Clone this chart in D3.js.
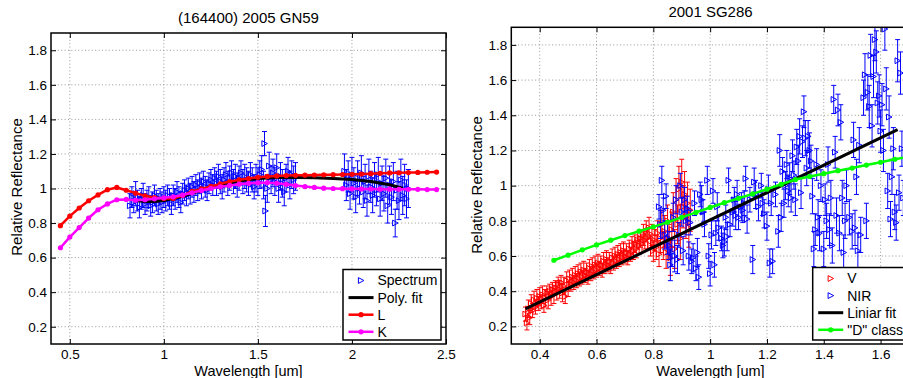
<!DOCTYPE html>
<html><head><meta charset="utf-8">
<script src="https://cdn.jsdelivr.net/npm/d3@7"></script>
<style>
body{margin:0;background:#fff}
svg{display:block}
text{font-family:"Liberation Sans",Arial,Helvetica,sans-serif;fill:#000}
</style>
</head><body>
<svg id="chart" width="903" height="378"></svg>
<script>
// ---------------- DATA ----------------
// Left panel: (164400) 2005 GN59
const leftTitle = "(164400) 2005 GN59";
const leftXTicks = [0.5, 1, 1.5, 2, 2.5];
const leftXTickLabels = ["0.5", "1", "1.5", "2", "2.5"];
const yTicks = [0.2, 0.4, 0.6, 0.8, 1.0, 1.2, 1.4, 1.6, 1.8];
const yTickLabels = ["0.2", "0.4", "0.6", "0.8", "1", "1.2", "1.4", "1.6", "1.8"];

// spectrum: [wavelength, reflectance, error]
const spectrumL = [
[0.82,0.90,0.07],[0.83,0.95,0.06],[0.84,0.92,0.06],[0.85,0.97,0.07],[0.86,0.93,0.06],[0.87,0.89,0.06],
[0.88,0.94,0.06],[0.89,0.96,0.07],[0.90,0.91,0.06],[0.91,0.93,0.06],[0.92,0.95,0.06],[0.93,0.90,0.06],
[0.94,0.92,0.06],[0.95,0.96,0.06],[0.96,0.93,0.06],[0.97,0.91,0.06],[0.98,0.94,0.06],[0.99,0.92,0.06],
[1.00,0.95,0.06],[1.01,0.93,0.06],[1.02,0.96,0.06],[1.03,0.94,0.06],[1.04,0.91,0.06],[1.05,0.96,0.06],
[1.06,0.94,0.06],[1.07,0.98,0.06],[1.08,0.95,0.06],[1.09,0.92,0.06],[1.10,0.97,0.06],[1.11,0.99,0.06],
[1.12,0.96,0.06],[1.13,1.00,0.06],[1.14,0.97,0.06],[1.15,1.01,0.06],[1.16,0.98,0.06],[1.17,1.02,0.06],
[1.18,0.99,0.06],[1.19,1.03,0.06],[1.20,1.00,0.06],[1.21,1.04,0.06],[1.22,1.01,0.06],[1.23,0.99,0.06],
[1.24,1.03,0.06],[1.25,1.05,0.06],[1.26,1.02,0.06],[1.27,1.06,0.06],[1.28,1.03,0.07],[1.29,1.07,0.07],
[1.30,1.04,0.07],[1.31,1.01,0.07],[1.32,1.05,0.07],[1.33,1.08,0.07],[1.34,1.03,0.07],[1.35,1.06,0.07],
[1.36,1.09,0.07],[1.37,1.04,0.07],[1.38,1.07,0.07],[1.39,1.02,0.07],[1.40,1.06,0.07],[1.41,1.09,0.07],
[1.42,1.04,0.07],[1.43,1.07,0.07],[1.44,1.05,0.07],[1.45,1.03,0.07],[1.46,1.08,0.07],[1.47,1.05,0.07],
[1.48,1.01,0.07],[1.49,1.06,0.08],[1.50,1.04,0.08],[1.51,1.08,0.08],[1.52,1.11,0.08],[1.53,1.02,0.08],
[1.535,1.26,0.07],[1.54,0.87,0.09],[1.55,1.00,0.08],[1.56,1.13,0.08],[1.57,1.05,0.08],[1.58,1.09,0.08],
[1.59,1.04,0.08],[1.60,1.12,0.08],[1.61,1.00,0.08],[1.62,1.07,0.08],[1.63,1.03,0.08],[1.64,0.98,0.08],
[1.65,1.06,0.08],[1.66,1.10,0.08],[1.67,1.02,0.08],[1.68,1.08,0.08],[1.69,1.05,0.08],[1.70,1.07,0.08],
[1.96,1.10,0.10],[1.97,1.02,0.09],[1.98,1.07,0.09],[1.99,0.97,0.09],[2.00,1.08,0.10],[2.01,1.03,0.09],
[2.02,0.95,0.09],[2.03,1.06,0.10],[2.04,1.00,0.09],[2.05,1.09,0.10],[2.06,0.98,0.09],[2.07,1.04,0.10],
[2.08,0.93,0.09],[2.09,1.07,0.10],[2.10,1.01,0.09],[2.11,0.96,0.10],[2.12,1.05,0.10],[2.13,0.99,0.09],
[2.14,1.08,0.10],[2.15,0.94,0.10],[2.16,1.03,0.10],[2.17,0.97,0.10],[2.18,1.06,0.11],[2.19,0.90,0.10],
[2.20,1.02,0.11],[2.21,0.95,0.10],[2.22,1.04,0.11],[2.23,0.80,0.08],[2.24,0.99,0.11],[2.25,0.93,0.11],
[2.26,1.05,0.12],[2.27,0.96,0.11],[2.28,1.02,0.12],[2.29,0.94,0.11],[2.30,1.00,0.11]
];
// polynomial fit: [wavelength, reflectance]
const polyFitL = [
[0.85,0.930],[0.90,0.925],[0.95,0.925],[1.00,0.930],[1.10,0.955],[1.20,0.990],[1.30,1.020],
[1.40,1.043],[1.50,1.058],[1.60,1.064],[1.70,1.064],[1.80,1.062],[1.90,1.058],[2.00,1.052],
[2.10,1.040],[2.20,1.022],[2.27,1.002]
];
const lamLK = [0.45,0.50,0.55,0.60,0.65,0.70,0.75,0.80,0.85,0.90,0.95,1.00,1.05,1.10,1.15,1.20,1.25,1.30,
1.35,1.40,1.45,1.50,1.55,1.60,1.65,1.70,1.75,1.80,1.85,1.90,1.95,2.00,2.05,2.10,2.15,2.20,2.25,2.30,2.35,2.40,2.45];
const classL = [0.785,0.840,0.887,0.929,0.963,0.993,1.006,0.990,0.973,0.958,0.948,0.942,0.942,0.960,0.983,0.998,
1.012,1.027,1.040,1.050,1.058,1.065,1.070,1.073,1.075,1.076,1.077,1.078,1.079,1.080,1.081,1.082,1.084,1.086,
1.088,1.090,1.091,1.092,1.093,1.094,1.095];
const classK = [0.657,0.719,0.774,0.829,0.877,0.911,0.935,0.937,0.932,0.935,0.940,0.946,0.952,0.962,0.975,0.988,
1.000,1.010,1.018,1.025,1.030,1.033,1.034,1.030,1.024,1.017,1.011,1.006,1.002,1.000,0.999,0.998,0.997,0.997,
0.996,0.996,0.995,0.995,0.995,0.994,0.994];

// Right panel: 2001 SG286
const rightTitle = "2001 SG286";
const rightXTicks = [0.4, 0.6, 0.8, 1.0, 1.2, 1.4, 1.6];
const rightXTickLabels = ["0.4", "0.6", "0.8", "1", "1.2", "1.4", "1.6"];
const visibleR = [
[0.350,0.27,0.04],[0.355,0.22,0.04],[0.360,0.30,0.05],[0.365,0.25,0.04],[0.370,0.33,0.05],[0.375,0.29,0.04],
[0.380,0.35,0.05],[0.385,0.31,0.04],[0.390,0.36,0.05],[0.395,0.33,0.04],[0.400,0.37,0.05],[0.405,0.34,0.04],
[0.410,0.38,0.05],[0.415,0.32,0.04],[0.420,0.36,0.05],[0.425,0.39,0.04],[0.430,0.35,0.05],[0.435,0.40,0.04],
[0.440,0.37,0.05],[0.445,0.41,0.04],[0.450,0.38,0.05],[0.455,0.42,0.04],[0.460,0.40,0.05],[0.465,0.44,0.04],
[0.470,0.41,0.05],[0.475,0.45,0.04],[0.480,0.39,0.05],[0.485,0.43,0.05],[0.490,0.37,0.04],[0.495,0.46,0.05],
[0.500,0.41,0.04],[0.505,0.47,0.05],[0.510,0.44,0.04],[0.515,0.48,0.05],[0.520,0.45,0.04],[0.525,0.49,0.05],
[0.530,0.46,0.04],[0.535,0.50,0.05],[0.540,0.47,0.04],[0.545,0.51,0.05],[0.550,0.48,0.04],[0.555,0.52,0.05],
[0.560,0.49,0.04],[0.565,0.51,0.05],[0.570,0.48,0.04],[0.575,0.53,0.05],[0.580,0.50,0.04],[0.585,0.54,0.05],
[0.590,0.51,0.04],[0.595,0.55,0.05],[0.600,0.52,0.04],[0.605,0.56,0.05],[0.610,0.53,0.04],[0.615,0.55,0.05],
[0.620,0.52,0.04],[0.625,0.57,0.05],[0.630,0.54,0.04],[0.635,0.58,0.05],[0.640,0.55,0.04],[0.645,0.57,0.05],
[0.650,0.54,0.04],[0.655,0.59,0.05],[0.660,0.56,0.04],[0.665,0.60,0.05],[0.670,0.57,0.04],[0.675,0.61,0.05],
[0.680,0.58,0.04],[0.685,0.62,0.05],[0.690,0.59,0.04],[0.695,0.63,0.05],[0.700,0.60,0.04],[0.705,0.62,0.05],
[0.710,0.59,0.04],[0.715,0.64,0.05],[0.720,0.61,0.04],[0.725,0.66,0.05],[0.730,0.63,0.05],[0.735,0.67,0.05],
[0.740,0.64,0.05],[0.745,0.69,0.05],[0.750,0.66,0.05],[0.755,0.70,0.05],[0.760,0.67,0.05],[0.765,0.72,0.06],
[0.770,0.69,0.05],[0.775,0.74,0.06],[0.780,0.70,0.06],[0.785,0.76,0.06],[0.790,0.66,0.06],[0.795,0.72,0.06],
[0.800,0.63,0.06],[0.805,0.69,0.06],[0.810,0.65,0.07],[0.815,0.73,0.07],[0.820,0.61,0.07],[0.825,0.70,0.08],
[0.830,0.78,0.08],[0.835,0.66,0.08],[0.840,0.74,0.09],[0.845,0.62,0.09],[0.850,0.80,0.09],[0.855,0.68,0.10],
[0.860,0.59,0.10],[0.865,0.75,0.10],[0.870,0.85,0.11],[0.875,0.64,0.11],[0.880,0.92,0.12],[0.885,0.78,0.11],
[0.890,0.98,0.13],[0.895,0.70,0.12],[0.900,1.02,0.13],[0.905,0.88,0.12],[0.910,0.95,0.13],[0.915,0.82,0.12],
[0.920,0.90,0.12],[0.925,0.76,0.11],[0.930,0.86,0.12]
];
const nirR = [
[0.820,0.88,0.07],[0.825,0.78,0.08],[0.830,1.03,0.08],[0.835,0.86,0.07],[0.840,0.72,0.08],[0.845,0.94,0.07],
[0.850,0.70,0.09],[0.855,0.66,0.08],[0.860,0.55,0.09],[0.865,0.62,0.08],[0.870,0.82,0.08],[0.875,0.60,0.09],
[0.880,0.92,0.08],[0.885,0.58,0.08],[0.890,0.72,0.07],[0.895,1.00,0.07],[0.900,0.85,0.08],[0.905,0.63,0.08],
[0.910,0.92,0.07],[0.915,0.80,0.08],[0.920,0.87,0.07],[0.925,0.60,0.08],[0.930,0.79,0.07],[0.935,0.57,0.07],
[0.940,0.59,0.08],[0.945,0.90,0.07],[0.950,0.53,0.07],[0.955,0.62,0.08],[0.960,0.48,0.07],[0.965,0.95,0.07],
[0.970,0.92,0.08],[0.975,0.85,0.07],[0.980,0.78,0.07],[0.990,1.03,0.08],[0.995,0.60,0.07],[1.000,0.50,0.07],
[1.005,0.72,0.08],[1.010,0.97,0.07],[1.015,0.55,0.07],[1.020,0.73,0.07],[1.025,0.88,0.08],[1.030,0.76,0.07],
[1.040,0.70,0.07],[1.045,0.66,0.07],[1.050,0.68,0.08],[1.055,0.82,0.07],[1.060,0.71,0.08],[1.065,1.03,0.07],
[1.070,0.78,0.07],[1.080,0.85,0.08],[1.085,0.92,0.07],[1.090,0.83,0.08],[1.095,0.95,0.08],[1.100,0.82,0.07],
[1.110,0.88,0.08],[1.115,0.86,0.07],[1.120,0.90,0.07],[1.125,1.04,0.07],[1.130,0.81,0.08],[1.140,0.92,0.07],
[1.150,0.58,0.08],[1.155,1.02,0.08],[1.160,0.95,0.08],[1.170,0.88,0.08],[1.180,1.00,0.07],[1.185,0.90,0.07],
[1.190,0.84,0.08],[1.200,0.77,0.08],[1.205,0.98,0.08],[1.210,0.56,0.08],[1.215,0.90,0.07],[1.220,0.57,0.07],
[1.230,0.95,0.07],[1.240,0.74,0.09],[1.245,1.20,0.09],[1.250,0.82,0.08],[1.255,1.08,0.08],[1.260,0.90,0.08],
[1.265,1.00,0.08],[1.270,1.12,0.08],[1.275,0.97,0.09],[1.280,1.04,0.09],[1.285,0.93,0.08],[1.290,1.17,0.09],
[1.295,1.06,0.08],[1.300,0.92,0.09],[1.305,1.22,0.10],[1.310,1.14,0.09],[1.315,1.28,0.10],[1.320,0.96,0.09],
[1.325,1.25,0.09],[1.330,1.42,0.09],[1.335,1.27,0.10],[1.340,1.10,0.10],[1.345,1.28,0.09],[1.350,1.20,0.10],
[1.355,1.14,0.09],[1.360,0.94,0.10],[1.365,0.64,0.10],[1.370,0.75,0.09],[1.375,1.12,0.09],[1.380,0.82,0.10],
[1.385,0.73,0.10],[1.390,1.00,0.09],[1.400,0.64,0.10],[1.405,0.92,0.09],[1.410,0.80,0.10],[1.415,1.12,0.10],
[1.420,0.75,0.09],[1.425,0.93,0.10],[1.430,0.66,0.10],[1.435,1.49,0.08],[1.440,1.19,0.09],[1.445,0.83,0.10],
[1.450,1.43,0.09],[1.455,0.73,0.10],[1.460,1.36,0.10],[1.465,0.93,0.10],[1.470,0.62,0.10],[1.475,0.80,0.10],
[1.480,1.00,0.09],[1.490,0.82,0.10],[1.500,0.74,0.10],[1.505,1.26,0.10],[1.510,0.76,0.10],[1.515,1.05,0.10],
[1.520,0.63,0.10],[1.525,1.23,0.10],[1.530,0.72,0.10],[1.540,1.50,0.10],[1.545,1.63,0.12],[1.550,0.80,0.10],
[1.555,1.53,0.10],[1.560,1.45,0.12],[1.565,1.74,0.12],[1.570,1.34,0.12],[1.575,1.62,0.12],[1.580,1.83,0.12],
[1.585,1.76,0.12],[1.590,1.47,0.12],[1.595,1.51,0.12],[1.600,1.31,0.12],[1.605,1.46,0.12],[1.610,1.20,0.12],
[1.615,1.89,0.12],[1.620,1.55,0.12],[1.625,0.97,0.10],[1.630,1.39,0.12],[1.635,0.81,0.10],[1.640,1.05,0.10],
[1.645,1.21,0.12],[1.650,0.85,0.10],[1.655,0.79,0.10],[1.660,1.71,0.12],[1.665,0.96,0.10],[1.670,1.64,0.12],
[1.675,1.21,0.10],[1.680,0.93,0.10],[1.690,1.35,0.12],[1.700,1.05,0.10]
];
const linearFitR = [[0.35,0.300],[1.66,1.318]];
const lamD = [0.45,0.50,0.55,0.60,0.65,0.70,0.75,0.80,0.85,0.90,0.95,1.00,1.05,1.10,1.15,1.20,1.25,1.30,1.35,
1.40,1.45,1.50,1.55,1.60,1.65,1.70,1.75];
const classD = [0.576,0.605,0.635,0.663,0.690,0.716,0.741,0.766,0.792,0.820,0.848,0.876,0.903,0.928,0.953,0.980,
1.008,1.035,1.052,1.068,1.085,1.100,1.117,1.133,1.150,1.165,1.180];

// ---------------- DRAWING ----------------
const svg = d3.select("#chart");
const BLUE = "#0000ff", RED = "#ff0000", MAG = "#ff00ff", GRN = "#00ff00";
const triPath = "M-2.6,-2.9L2.9,0L-2.6,2.9Z";

function drawPanel(cfg) {
  const x = d3.scaleLinear().domain(cfg.xDomain).range(cfg.xRange);
  const y = d3.scaleLinear().domain([0.1, 1.9]).range(cfg.yRange);
  const [x0, x1] = cfg.xRange, [y0, y1] = cfg.yRange;
  const g = svg.append("g");
  const clipId = "clip-" + cfg.id;
  g.append("clipPath").attr("id", clipId).append("rect")
    .attr("x", x0).attr("y", y1).attr("width", x1 - x0).attr("height", y0 - y1);

  // grid
  const grid = g.append("g").attr("stroke", "#8c8c8c").attr("stroke-width", 0.9)
    .attr("stroke-dasharray", "1,2.4");
  grid.selectAll("line.gx").data(cfg.xTicks.filter(t => x(t) > x0 + 1 && x(t) < x1 - 1)).join("line")
    .attr("x1", d => x(d)).attr("x2", d => x(d)).attr("y1", y1).attr("y2", y0);
  grid.selectAll("line.gy").data(yTicks).join("line")
    .attr("y1", d => y(d)).attr("y2", d => y(d)).attr("x1", x0).attr("x2", x1);

  // axes
  const fmtX = (d, i) => cfg.xLabels[i];
  const fmtY = (d, i) => yTickLabels[i];
  const ax = g.append("g").attr("transform", `translate(0,${y0})`)
    .call(d3.axisBottom(x).tickValues(cfg.xTicks).tickFormat(fmtX).tickSize(-5).tickPadding(5.5));
  const ay = g.append("g").attr("transform", `translate(${x0},0)`)
    .call(d3.axisLeft(y).tickValues(yTicks).tickFormat(fmtY).tickSize(-5).tickPadding(4));
  const at = g.append("g").attr("transform", `translate(0,${y1})`)
    .call(d3.axisTop(x).tickValues(cfg.xTicks).tickFormat("").tickSize(-5));
  const ar = g.append("g").attr("transform", `translate(${x1},0)`)
    .call(d3.axisRight(y).tickValues(yTicks).tickFormat("").tickSize(-5));
  [ax, ay, at, ar].forEach(a => {
    a.select(".domain").remove();
    a.selectAll("line").attr("stroke", "#000").attr("stroke-width", 1);
    a.selectAll("text").attr("font-size", 13.5).attr("font-family", '"Liberation Sans",Arial,sans-serif').attr("fill", "#000");
  });
  [at, ar].forEach(a => a.selectAll("text").remove());

  const plot = g.append("g").attr("clip-path", `url(#${clipId})`);

  function errorSeries(data, color) {
    const s = plot.append("g").attr("stroke", color).attr("fill", "none").attr("stroke-width", 1);
    s.selectAll("path.eb").data(data).join("path").attr("class", "eb")
      .attr("d", d => {
        const cx = x(d[0]), yt = y(d[1] + d[2]), yb = y(d[1] - d[2]);
        return `M${cx},${yt}V${yb}M${cx - 2.5},${yt}H${cx + 2.5}M${cx - 2.5},${yb}H${cx + 2.5}`;
      });
    s.selectAll("path.mk").data(data).join("path").attr("class", "mk")
      .attr("transform", d => `translate(${x(d[0])},${y(d[1])})`).attr("d", triPath);
  }
  function lineSeries(data, color, width, dots) {
    const line = d3.line().x(d => x(d[0])).y(d => y(d[1]));
    plot.append("path").datum(data).attr("d", line).attr("fill", "none")
      .attr("stroke", color).attr("stroke-width", width).attr("stroke-linejoin", "round");
    if (dots) {
      plot.append("g").selectAll("circle").data(data).join("circle")
        .attr("cx", d => x(d[0])).attr("cy", d => y(d[1])).attr("r", 2.6).attr("fill", color);
    }
  }
  cfg.draw(errorSeries, lineSeries);

  // box
  g.append("rect").attr("x", x0).attr("y", y1).attr("width", x1 - x0).attr("height", y0 - y1)
    .attr("fill", "none").attr("stroke", "#000").attr("stroke-width", 1.5);

  // title & labels
  g.append("text").attr("x", cfg.titleX).attr("y", cfg.titleY).attr("text-anchor", "middle")
    .attr("font-size", 15).text(cfg.title);
  g.append("text").attr("x", cfg.titleX).attr("y", 375.5).attr("text-anchor", "middle")
    .attr("font-size", 14.5).text("Wavelength [um]");
  g.append("text").attr("transform", `translate(${cfg.ylabX},${cfg.ylabY}) rotate(-90)`)
    .attr("text-anchor", "middle").attr("font-size", 15).text("Relative Reflectance");

  // legend
  const L = cfg.legend;
  const lg = g.append("g");
  lg.append("rect").attr("x", L.x).attr("y", L.y).attr("width", L.w).attr("height", L.h)
    .attr("fill", "#fff").attr("stroke", "#000").attr("stroke-width", 1.5);
  L.items.forEach((it, i) => {
    const yy = L.y + 11 + i * 17.1;
    const lx0 = L.x + 5.5, lx1 = L.x + 30.5, lxm = (lx0 + lx1) / 2;
    if (it.type === "marker") {
      lg.append("path").attr("transform", `translate(${lxm},${yy})`).attr("d", triPath)
        .attr("fill", "none").attr("stroke", it.color).attr("stroke-width", 1);
    } else {
      lg.append("line").attr("x1", lx0).attr("x2", lx1).attr("y1", yy).attr("y2", yy)
        .attr("stroke", it.color).attr("stroke-width", it.width);
      if (it.dots) lg.append("circle").attr("cx", lxm).attr("cy", yy).attr("r", 2.6).attr("fill", it.color);
    }
    lg.append("text").attr("x", L.x + 34.5).attr("y", yy).attr("dy", "0.35em")
      .attr("font-size", 14).text(it.label);
  });
}

drawPanel({
  id: "left", xDomain: [0.4, 2.5], xRange: [51, 446], yRange: [344, 33],
  xTicks: leftXTicks, xLabels: leftXTickLabels, title: leftTitle, titleX: 248.5, titleY: 22.5,
  ylabX: 22, ylabY: 187,
  legend: { x: 343, y: 269.5, w: 98, h: 70.5, items: [
    { type: "marker", color: BLUE, label: "Spectrum" },
    { type: "line", color: "#000", width: 3, label: "Poly. fit" },
    { type: "line", color: RED, width: 2.5, dots: true, label: "L" },
    { type: "line", color: MAG, width: 2.5, dots: true, label: "K" } ] },
  draw: (errorSeries, lineSeries) => {
    errorSeries(spectrumL, BLUE);
    lineSeries(polyFitL, "#000", 3, false);
    lineSeries(lamLK.map((l, i) => [l, classL[i]]), RED, 2.5, true);
    lineSeries(lamLK.map((l, i) => [l, classK[i]]), MAG, 2.5, true);
  }
});

drawPanel({
  id: "right", xDomain: [0.3, 1.7], xRange: [511.3, 909], yRange: [344, 27.3],
  xTicks: rightXTicks, xLabels: rightXTickLabels, title: rightTitle, titleX: 710.5, titleY: 16.5,
  ylabX: 482, ylabY: 185,
  legend: { x: 812.7, y: 267.5, w: 92, h: 72.5, items: [
    { type: "marker", color: RED, label: "V" },
    { type: "marker", color: BLUE, label: "NIR" },
    { type: "line", color: "#000", width: 3, label: "Liniar fit" },
    { type: "line", color: GRN, width: 2.5, dots: true, label: "\"D\" class" } ] },
  draw: (errorSeries, lineSeries) => {
    errorSeries(visibleR, RED);
    errorSeries(nirR, BLUE);
    lineSeries(linearFitR, "#000", 3, false);
    lineSeries(lamD.map((l, i) => [l, classD[i]]), GRN, 2.5, true);
  }
});
</script>
</body></html>
